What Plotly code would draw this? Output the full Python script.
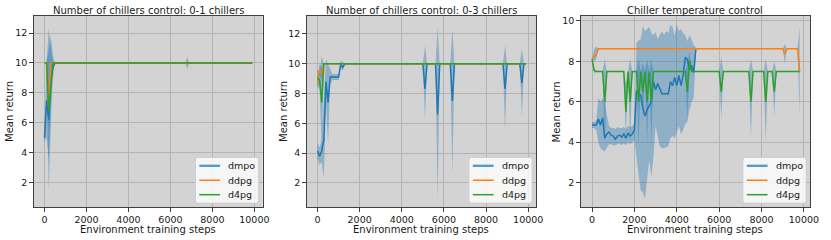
import plotly.graph_objects as go

W, H = 831, 240

# ---------------- data ----------------
titles = ["Number of chillers control: 0-1 chillers",
          "Number of chillers control: 0-3 chillers",
          "Chiller temperature control"]
series_names = ["dmpo", "ddpg", "d4pg"]
x_ticks = [0, 2000, 4000, 6000, 8000, 10000]
y_ticks_12 = [2, 4, 6, 8, 10, 12]
y_ticks_10 = [2, 4, 6, 8, 10]

# Panel 1: 0-1 chillers
dmpo1_steps = [0, 100, 200, 300, 400, 500, 6700, 6800, 6900, 9900]
dmpo1_mean = [5.0, 7.5, 6.2, 8.8, 9.7, 10, 10, 10, 10, 10]
dmpo1_lo = [4.7, 5.0, 3.5, 7.0, 9.0, 10, 10, 9.6, 10, 10]
dmpo1_hi = [5.6, 10.2, 10.8, 11.8, 10.5, 10, 10, 10.4, 10, 10]

ddpg1_steps = [0, 100, 200, 300, 9900]
ddpg1_mean = [10, 10, 7.1, 10, 10]
ddpg1_lo = [10, 10, 6.0, 10, 10]
ddpg1_hi = [10, 10, 8.2, 10, 10]

d4pg1_steps = [0, 100, 200, 400, 9900]
d4pg1_mean = [10, 10, 6.8, 10, 10]
d4pg1_lo = [10, 10, 1.4, 10, 10]
d4pg1_hi = [10, 10, 12.3, 10, 10]

# Panel 2: 0-3 chillers
dmpo2_steps = [0, 100, 200, 300, 400, 500, 600, 700, 800, 900, 1000, 1100, 1200, 1300,
               5000, 5100, 5200, 5600, 5700, 5800, 6300, 6400, 6500,
               8800, 8900, 9000, 9600, 9700, 9800, 9900]
dmpo2_mean = [4.15, 3.8, 4.15, 4.9, 8.8, 7.4, 9.1, 9.1, 9.1, 9.1, 9.1, 9.95, 9.75, 10,
              10, 8.3, 10, 10, 6.6, 10, 10, 7.5, 10,
              10, 8.3, 10, 10, 8.7, 10, 10]
dmpo2_lo = [3.6, 3.2, 3.4, 2.3, 7.4, 4.6, 8.6, 8.9, 8.9, 8.9, 8.9, 9.7, 9.5, 10,
            10, 6.2, 10, 10, 0.9, 10, 10, 2.5, 10,
            10, 5.5, 10, 10, 6.4, 10, 10]
dmpo2_hi = [4.7, 4.4, 4.9, 7.5, 10.3, 10.0, 9.6, 9.3, 9.3, 9.3, 9.3, 10.2, 10.1, 10,
            10, 11.2, 10, 10, 12.4, 10, 10, 12.3, 10,
            10, 11.2, 10, 10, 11.0, 10, 10]

ddpg2_steps = [0, 100, 200, 300, 9900]
ddpg2_mean = [8.7, 9.6, 9.3, 10, 10]
ddpg2_lo = [8.3, 9.2, 8.9, 10, 10]
ddpg2_hi = [9.1, 10.0, 9.7, 10, 10]

d4pg2_steps = [0, 100, 200, 300, 9900]
d4pg2_mean = [9.05, 8.9, 7.4, 10, 10]
d4pg2_lo = [8.5, 8.3, 4.3, 10, 10]
d4pg2_hi = [9.6, 9.5, 10.5, 10, 10]

# Panel 3: chiller temperature control
dmpo3_steps = [0, 100, 200, 300, 400, 500, 600, 700, 800, 900,
               1000, 1100, 1200, 1300, 1400, 1500, 1600, 1700, 1800, 1900,
               2000, 2100, 2200, 2300, 2400, 2500, 2600, 2700, 2800, 2900,
               3000, 3100, 3200, 3300, 3400, 3500, 3600, 3700, 3800, 3900,
               4000, 4100, 4200, 4300, 4400, 4500, 4600, 4700, 4800, 4900]
dmpo3_mean = [4.85, 4.85, 4.85, 5.15, 4.85, 5.2, 4.2, 4.4, 4.5, 4.35,
              4.3, 4.15, 4.3, 4.35, 4.25, 4.4, 4.2, 4.45, 4.3, 4.4,
              4.6, 6.55, 6.4, 6.3, 5.7, 5.3, 5.6, 5.8, 6.0, 7.0,
              6.6, 6.9, 6.6, 6.4, 6.4, 6.4, 6.4, 7.0, 6.8, 7.2,
              6.8, 7.3, 6.8, 7.3, 8.2, 8.1, 7.6, 7.8, 7.45, 8.6]
dmpo3_lo = [4.7, 4.7, 4.6, 4.0, 3.7, 3.6, 3.55, 3.7, 3.9, 3.9,
            3.85, 3.85, 3.9, 3.95, 3.85, 3.95, 3.85, 4.0, 3.9, 4.0,
            4.1, 3.3, 2.4, 1.6, 1.5, 1.2, 2.0, 3.1, 2.3, 3.3,
            4.8, 4.3, 3.8, 3.7, 3.7, 3.75, 3.8, 4.2, 4.3, 4.2,
            4.5, 4.8, 4.4, 4.6, 4.9, 5.0, 5.6, 6.0, 6.2, 8.5]
dmpo3_hi = [5.0, 5.0, 5.1, 6.2, 6.0, 6.2, 5.9, 5.4, 4.8, 4.7,
            4.7, 4.65, 4.75, 4.7, 4.7, 4.75, 4.65, 4.8, 4.75, 4.8,
            4.9, 8.9, 9.05, 9.1, 9.75, 9.5, 9.6, 9.7, 9.4, 9.3,
            9.45, 9.1, 9.3, 9.5, 9.3, 9.5, 9.4, 9.8, 9.7, 9.3,
            9.8, 9.5, 9.6, 9.4, 9.3, 9.0, 9.3, 9.1, 8.8, 8.7]

ddpg3_steps = [0, 100, 200, 300, 9000, 9100, 9200, 9700, 9800]
ddpg3_mean = [8.1, 8.24, 8.35, 8.63, 8.63, 8.36, 8.63, 8.63, 7.5]
ddpg3_lo = [8.1, 8.0, 8.1, 8.63, 8.63, 7.9, 8.63, 8.63, 5.3]
ddpg3_hi = [8.1, 8.6, 8.75, 8.63, 8.63, 8.85, 8.63, 8.63, 9.7]

d4pg3_steps = [0, 100, 200, 500, 600, 700, 1500, 1600, 1700, 1800, 1900,
               2100, 2200, 2300, 2400, 2500, 2600, 2700, 2800, 2900,
               4400, 4500, 4600, 4700, 6000, 6100, 6200, 7400, 7500, 7600,
               8100, 8200, 8300, 8500, 8600, 8700, 9800]
d4pg3_mean = [8.1, 7.55, 7.5, 7.5, 6.0, 7.5, 7.5, 5.5, 7.5, 6.0, 7.5,
              7.5, 6.0, 7.5, 6.5, 7.5, 6.0, 7.5, 6.0, 7.5,
              7.5, 6.5, 8.05, 7.5, 7.5, 6.5, 7.5, 7.5, 6.0, 7.5,
              7.5, 6.0, 7.5, 7.5, 6.5, 7.5, 7.5]
d4pg3_lo = [8.1, 7.4, 7.5, 7.5, 3.9, 7.5, 7.5, 4.1, 7.5, 3.9, 7.5,
            7.5, 3.9, 7.5, 5.1, 7.5, 3.9, 7.5, 3.9, 7.5,
            7.5, 5.1, 7.6, 7.5, 7.5, 5.1, 7.5, 7.5, 4.2, 7.5,
            7.5, 4.0, 7.5, 7.5, 5.3, 7.5, 7.5]
d4pg3_hi = [8.1, 7.7, 7.5, 7.5, 8.1, 7.5, 7.5, 6.9, 7.5, 8.1, 7.5,
            7.5, 8.1, 7.5, 7.9, 7.5, 8.1, 7.5, 8.1, 7.5,
            7.5, 7.9, 8.5, 7.5, 7.5, 8.2, 7.5, 7.5, 8.1, 7.5,
            7.5, 8.1, 7.5, 7.5, 8.0, 7.5, 7.5]

# ---------------- style ----------------
COLORS = {"dmpo": "#1f77b4", "ddpg": "#ff7f0e", "d4pg": "#2ca02c"}
LEGEND_COLORS = {"dmpo": "#5a9acb", "ddpg": "#ff7f0e", "d4pg": "#2ca02c"}
LEGEND_WIDTHS = {"dmpo": 2.4, "ddpg": 1.5, "d4pg": 1.5}
BAND = "rgba(31,119,180,0.38)"
BG = "#d3d3d3"
GRID = "#b4b4b4"
FRAME = "#404040"
FONT = "DejaVu Sans"
TXT = "#1a1a1a"

# pixel layout: (left, right) of each plot area, top/bottom shared
px_x = [(34, 265.5), (310, 542), (587, 819)]
px_top, px_bot = 15, 207
x_ranges = [[-518, 10392], [-516, 10376], [-537, 10294]]
y_ranges = [[0.35, 13.15], [0.38, 13.2], [0.78, 10.25]]
y_tick_sets = [y_ticks_12, y_ticks_12, y_ticks_10]
ylab_x = [9.5, 286.5, 563]

panels = [
    {"dmpo": (dmpo1_steps, dmpo1_mean, dmpo1_lo, dmpo1_hi),
     "ddpg": (ddpg1_steps, ddpg1_mean, ddpg1_lo, ddpg1_hi),
     "d4pg": (d4pg1_steps, d4pg1_mean, d4pg1_lo, d4pg1_hi)},
    {"dmpo": (dmpo2_steps, dmpo2_mean, dmpo2_lo, dmpo2_hi),
     "ddpg": (ddpg2_steps, ddpg2_mean, ddpg2_lo, ddpg2_hi),
     "d4pg": (d4pg2_steps, d4pg2_mean, d4pg2_lo, d4pg2_hi)},
    {"dmpo": (dmpo3_steps, dmpo3_mean, dmpo3_lo, dmpo3_hi),
     "ddpg": (ddpg3_steps, ddpg3_mean, ddpg3_lo, ddpg3_hi),
     "d4pg": (d4pg3_steps, d4pg3_mean, d4pg3_lo, d4pg3_hi)},
]


def px(xp):
    return xp / W


def py(yp):
    return (H - yp) / H


fig = go.Figure()
annotations = []
shapes = []
layout_axes = {}

for i, pdata in enumerate(panels):
    k = "" if i == 0 else str(i + 1)
    xa, ya = "x" + k, "y" + k
    # bands first
    for name in series_names:
        s, m, lo, hi = pdata[name]
        fig.add_trace(go.Scatter(
            x=list(s) + list(s)[::-1], y=list(hi) + list(lo)[::-1],
            fill="toself", fillcolor=BAND, line=dict(width=0), mode="lines",
            hoverinfo="skip", showlegend=False, xaxis=xa, yaxis=ya))
    # lines
    for name in series_names:
        s, m, lo, hi = pdata[name]
        fig.add_trace(go.Scatter(
            x=s, y=m, mode="lines", name=name,
            line=dict(color=COLORS[name], width=1.5),
            xaxis=xa, yaxis=ya, showlegend=False))

    l, r = px_x[i]
    common = dict(
        showgrid=True, gridcolor=GRID, gridwidth=1, zeroline=False,
        showline=True, mirror=True, linecolor=FRAME, linewidth=1,
        ticks="outside", ticklen=3.5, tickcolor=FRAME, tickwidth=1,
        tickfont=dict(family=FONT, size=9.5, color=TXT))
    layout_axes["xaxis" + k] = dict(
        domain=[l / W, r / W], range=x_ranges[i], anchor=ya,
        tickvals=x_ticks, ticktext=[str(t) for t in x_ticks], **common)
    layout_axes["yaxis" + k] = dict(
        domain=[(H - px_bot) / H, (H - px_top) / H], range=y_ranges[i], anchor=xa,
        tickvals=y_tick_sets[i], ticktext=[str(t) for t in y_tick_sets[i]], **common)

    # legend box (drawn in page pixels, lower right of each panel)
    bx0, bx1 = r - 68, r - 4
    by0, by1 = 157, 203
    rad = 2.5
    path = (f"M {px(bx0 + rad)},{py(by0)} L {px(bx1 - rad)},{py(by0)} "
            f"Q {px(bx1)},{py(by0)} {px(bx1)},{py(by0 + rad)} "
            f"L {px(bx1)},{py(by1 - rad)} Q {px(bx1)},{py(by1)} {px(bx1 - rad)},{py(by1)} "
            f"L {px(bx0 + rad)},{py(by1)} Q {px(bx0)},{py(by1)} {px(bx0)},{py(by1 - rad)} "
            f"L {px(bx0)},{py(by0 + rad)} Q {px(bx0)},{py(by0)} {px(bx0 + rad)},{py(by0)} Z")
    shapes.append(dict(type="path", path=path, xref="paper", yref="paper",
                       fillcolor="rgba(255,255,255,0.8)",
                       line=dict(color="#cccccc", width=1), layer="above"))
    for j, name in enumerate(series_names):
        yy = 165.5 + j * 14.5
        shapes.append(dict(type="line", xref="paper", yref="paper",
                           x0=px(bx0 + 4), x1=px(bx0 + 25), y0=py(yy), y1=py(yy),
                           line=dict(color=LEGEND_COLORS[name], width=LEGEND_WIDTHS[name]),
                           layer="above"))
        annotations.append(dict(
            x=px(bx0 + 31), y=py(yy), xref="paper", yref="paper", text=name,
            showarrow=False, xanchor="left", yanchor="middle",
            font=dict(family=FONT, size=9.5, color=TXT)))

    # subplot title
    annotations.append(dict(
        x=(l + r) / 2 / W, y=py(10), xref="paper", yref="paper",
        text=titles[i], showarrow=False, xanchor="center", yanchor="middle",
        font=dict(family=FONT, size=10, color=TXT)))
    # x axis title
    annotations.append(dict(
        x=(l + r) / 2 / W, y=py(229.5), xref="paper", yref="paper",
        text="Environment training steps", showarrow=False,
        xanchor="center", yanchor="middle",
        font=dict(family=FONT, size=10, color=TXT)))
    # y axis title
    annotations.append(dict(
        x=ylab_x[i] / W, y=py((px_top + px_bot) / 2), xref="paper", yref="paper",
        text="Mean return", showarrow=False, textangle=-90,
        xanchor="center", yanchor="middle",
        font=dict(family=FONT, size=10, color=TXT)))

fig.update_layout(
    width=W, height=H, margin=dict(l=0, r=0, t=0, b=0),
    paper_bgcolor="white", plot_bgcolor=BG, showlegend=False,
    hovermode=False,
    annotations=annotations, shapes=shapes, **layout_axes)

fig.write_html("out.html",
               config={"displayModeBar": False, "staticPlot": True},
               post_script="document.body.style.margin='0';"
                           "document.body.style.overflow='hidden';")
